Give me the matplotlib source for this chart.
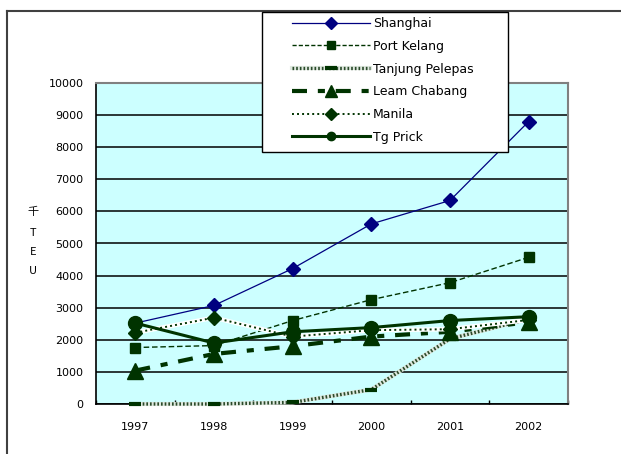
import matplotlib
matplotlib.use("Agg")
import matplotlib.pyplot as plt
from matplotlib.lines import Line2D
from matplotlib.patches import Rectangle

# Container throughput, thousand TEU
years = ["1997", "1998", "1999", "2000", "2001", "2002"]
shanghai = [2520, 3070, 4220, 5610, 6340, 8800]
port_kelang = [1760, 1820, 2600, 3250, 3780, 4570]
tanjung_pelepas = [0, 0, 50, 450, 2030, 2650]
laem_chabang = [1040, 1560, 1800, 2100, 2250, 2550]
manila = [2220, 2690, 2100, 2300, 2330, 2620]
tg_priok = [2520, 1900, 2250, 2380, 2600, 2720]

series_names = ["Shanghai", "Port Kelang", "Tanjung Pelepas", "Leam Chabang", "Manila", "Tg Prick"]
y_ticks = [0, 1000, 2000, 3000, 4000, 5000, 6000, 7000, 8000, 9000, 10000]

W, H = 621, 454
DG = "#003300"
NAVY = "#000080"

fig = plt.figure(figsize=(W / 100, H / 100), dpi=100)
fig.patch.set_facecolor("white")


def fx(x):
    return x / W


def fy(y):
    return 1 - y / H


ax = fig.add_axes([fx(96), fy(404), fx(568) - fx(96), fy(83) - fy(404)])
ax.set_facecolor("#CCFFFF")

x = list(range(len(years)))

# Shanghai
ax.plot(x, shanghai, color=NAVY, lw=0.9, marker="D", ms=7.5, mfc=NAVY, mec=NAVY,
        zorder=3, clip_on=False)
# Port Kelang
ax.plot(x, port_kelang, color=DG, lw=1.0, ls=(0, (4, 2)), marker="s", ms=7.5,
        mfc=DG, mec=DG, zorder=3, clip_on=False)
# Tanjung Pelepas: stippled band
ax.plot(x, tanjung_pelepas, color="#dfe8df", lw=3.0, zorder=3, clip_on=False)
ax.plot(x, tanjung_pelepas, color="#2a4a2a", lw=2.4, ls=(0, (0.5, 0.6)), marker="_",
        ms=8, mew=3, mec=DG, zorder=3, clip_on=False)
# Laem Chabang
ax.plot(x, laem_chabang, color=DG, lw=3.0, ls=(0, (3.6, 2.6, 1.7, 2.6)),
        marker="^", ms=12, mfc=DG, mec=DG, zorder=3, clip_on=False)
# Manila: light dotted band
ax.plot(x, manila, color="white", lw=3.2, zorder=3, clip_on=False)
ax.plot(x, manila, color=DG, lw=1.4, ls=(0, (1, 1.6)), marker="D", ms=7,
        mfc=DG, mec=DG, zorder=3, clip_on=False)
# Tg Priok
ax.plot(x, tg_priok, color=DG, lw=2.2, marker="o", ms=10, mfc=DG, mec=DG,
        zorder=3, clip_on=False)

ax.set_xlim(-0.5, len(years) - 0.5)
ax.set_ylim(0, 10000)
ax.set_yticks(y_ticks)
ax.set_yticklabels([str(v) for v in y_ticks])
ax.grid(axis="y", color="black", lw=1.1, zorder=1)
ax.set_axisbelow(True)

ax.set_xticks([i - 0.5 for i in range(len(years) + 1)])
ax.set_xticklabels([])
ax.set_xticks(x, minor=True)
ax.set_xticklabels(years, minor=True)
ax.tick_params(axis="x", which="major", direction="in", length=3, width=1, color="black")
ax.tick_params(axis="x", which="minor", length=0, pad=13, labelsize=8)
ax.tick_params(axis="y", length=0, pad=9, labelsize=8)

for side in ("left", "bottom"):
    ax.spines[side].set_color("black")
    ax.spines[side].set_linewidth(1.2)
for side in ("top", "right"):
    ax.spines[side].set_color("#808080")
    ax.spines[side].set_linewidth(1.5)

# vertical axis title
for ch, yy in zip(["千", "T", "E", "U"], [212, 233, 252, 271]):
    fig.text(fx(33), fy(yy), ch, ha="center", va="center", fontsize=8,
             family=["Noto Sans CJK JP", "DejaVu Sans"])

# outer chart frame
fig.add_artist(Line2D([fx(7), fx(7)], [fy(11), fy(460)], color="#404040", lw=1.5))
fig.add_artist(Line2D([fx(7), fx(630)], [fy(11), fy(11)], color="#404040", lw=1.5))

# legend box
box = Rectangle((fx(262), fy(152)), fx(508) - fx(262), fy(12) - fy(152),
                transform=fig.transFigure, facecolor="white", edgecolor="black",
                lw=1.0, zorder=4)
fig.add_artist(box)

h_sh = Line2D([], [], color=NAVY, lw=0.9, marker="D", ms=6, mfc=NAVY, mec=NAVY)
h_pk = Line2D([], [], color=DG, lw=1.0, ls=(0, (3, 1.5)), marker="s", ms=6, mfc=DG, mec=DG)
h_tp = (Line2D([], [], color="#dfe8df", lw=3.0),
        Line2D([], [], color="#2a4a2a", lw=2.4, ls=(0, (0.5, 0.6)), marker="_", ms=8, mew=3, mec=DG))
h_lc = Line2D([], [], color=DG, lw=3.0, ls=(0, (3.6, 2.6, 1.7, 2.6)), marker="^", ms=8,
              mfc=DG, mec=DG)
h_mn = (Line2D([], [], color="white", lw=3.2),
        Line2D([], [], color=DG, lw=1.4, ls=(0, (1, 1.6)), marker="D", ms=6, mfc=DG, mec=DG))
h_tg = Line2D([], [], color=DG, lw=2.2, marker="o", ms=6, mfc=DG, mec=DG)

leg = fig.legend([h_sh, h_pk, h_tp, h_lc, h_mn, h_tg], series_names,
                 loc="upper left", bbox_to_anchor=(fx(292), fy(17)),
                 frameon=False, borderpad=0, borderaxespad=0, fontsize=9,
                 handlelength=6.2, handletextpad=0.25, labelspacing=0.78)
leg.set_zorder(5)

fig.savefig("out.png", dpi=100)
